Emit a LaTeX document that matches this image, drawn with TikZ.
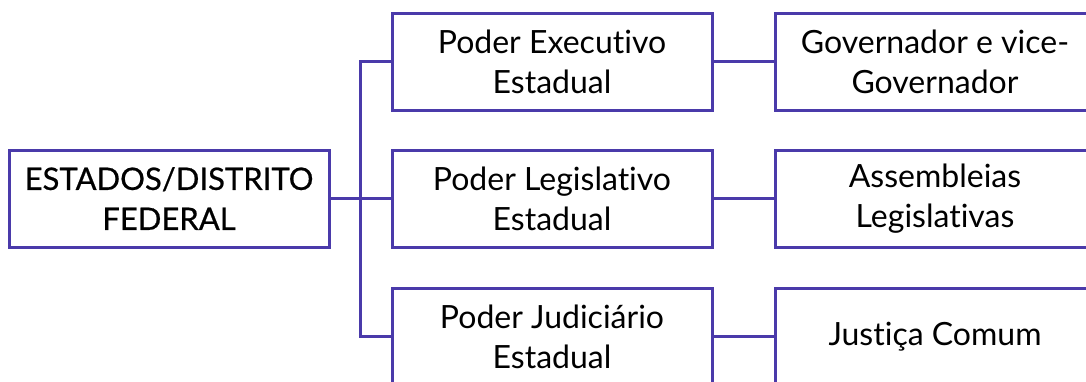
\documentclass[tikz,border=0pt]{standalone}
\usepackage{fontspec}
\setmainfont{Lato}[RawFeature=-liga]
\newfontfamily\medfont{Lato}[FakeBold=0.6,RawFeature=-liga]
\definecolor{linec}{RGB}{74,58,170}
\begin{document}
\begin{tikzpicture}[x=1pt,y=-1pt,
  box/.style={draw=linec,line width=3pt,fill=white,minimum width=320pt,minimum height=97pt,
    align=center,inner sep=0pt,font=\fontsize{32}{40}\selectfont},
  conn/.style={draw=linec,line width=3pt}]
\useasboundingbox (0,0) rectangle (1086,381);
\clip (0,0) rectangle (1086,381);
\node[box,font=\medfont\fontsize{31}{40}\selectfont] (L) at (169,198.5) {ESTADOS/DISTRITO\\FEDERAL};
\node[box] (M1) at (552,61.5) {Poder Executivo\\Estadual};
\node[box] (M2) at (552,198.5) {Poder Legislativo\\Estadual};
\node[box] (M3) at (552,336.5) {Poder Judiciário\\Estadual};
\node[box] (R1) at (935,61.5) {Governador e vice-\\Governador};
\node[box] (R2) at (935,198.5) {Assembleias\\Legislativas};
\node[box] (R3) at (935,336.5) {Justiça Comum};
\coordinate (J) at (360,198.5);
\draw[conn] (L.east) -- (J);
\draw[conn] (J) |- (M1.west);
\draw[conn] (J) |- (M3.west);
\draw[conn] (J) -- (M2.west);
\draw[conn] (M1.east) -- (R1.west);
\draw[conn] (M2.east) -- (R2.west);
\draw[conn] (M3.east) -- (R3.west);
\end{tikzpicture}
\end{document}
